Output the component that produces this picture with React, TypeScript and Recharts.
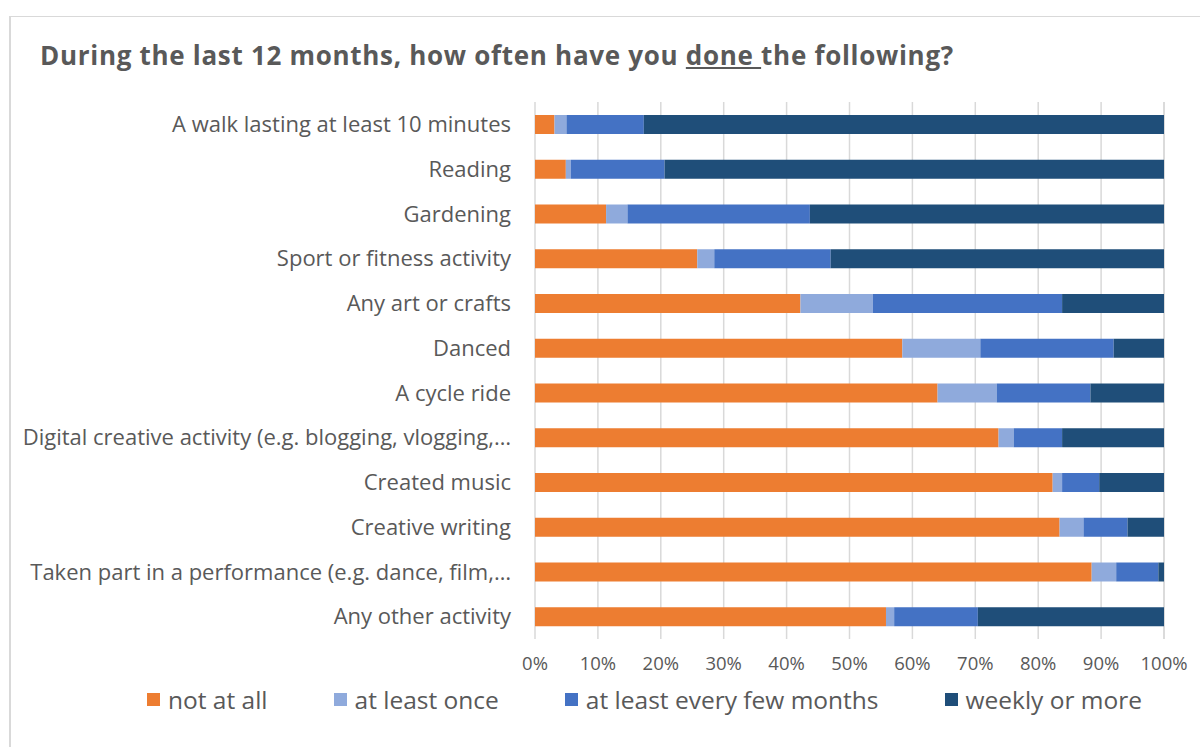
import { Bar, BarChart, CartesianGrid, XAxis, YAxis } from 'recharts'

// Activities, top to bottom
const activities = [
  'A walk lasting at least 10 minutes',
  'Reading',
  'Gardening',
  'Sport or fitness activity',
  'Any art or crafts',
  'Danced',
  'A cycle ride',
  'Digital creative activity (e.g. blogging, vlogging,…',
  'Created music',
  'Creative writing',
  'Taken part in a performance (e.g. dance, film,…',
  'Any other activity',
]

// Shares in % per answer
const notAtAll = [3.1, 4.9, 11.3, 25.8, 42.2, 58.4, 64.0, 73.7, 82.3, 83.4, 88.5, 55.8]
const atLeastOnce = [1.9, 0.8, 3.4, 2.7, 11.5, 12.4, 9.4, 2.4, 1.5, 3.8, 3.9, 1.3]
const everyFewMonths = [12.3, 14.9, 29.0, 18.5, 30.1, 21.2, 14.9, 7.7, 5.9, 7.0, 6.7, 13.3]
const weekly = [82.7, 79.4, 56.3, 53.0, 16.2, 8.0, 11.7, 16.2, 10.3, 5.8, 0.9, 29.6]

const xTicks = [0, 10, 20, 30, 40, 50, 60, 70, 80, 90, 100]

const series = [
  { key: 'notAtAll', name: 'not at all', color: '#ED7D31' },
  { key: 'atLeastOnce', name: 'at least once', color: '#8FAADC' },
  { key: 'everyFewMonths', name: 'at least every few months', color: '#4472C4' },
  { key: 'weekly', name: 'weekly or more', color: '#1F4E79' },
]

const data = activities.map((name, i) => ({
  name,
  notAtAll: notAtAll[i],
  atLeastOnce: atLeastOnce[i],
  everyFewMonths: everyFewMonths[i],
  weekly: weekly[i],
}))

const font = '"Open Sans", Lato, sans-serif'
const textColor = '#595959'

function LegendBox() {
  return (
    <div
      style={{
        position: 'absolute',
        left: 147,
        top: 683,
        display: 'flex',
        gap: 66,
        fontFamily: font,
        fontSize: 24.5,
        color: textColor,
        whiteSpace: 'nowrap',
      }}
    >
      {series.map((s) => (
        <div key={s.key} style={{ display: 'flex', alignItems: 'center' }}>
          <span style={{ width: 13, height: 13, background: s.color, marginRight: 8, display: 'inline-block' }} />
          {s.name}
        </div>
      ))}
    </div>
  )
}

export default function App() {
  return (
    <div style={{ position: 'absolute', left: 0, top: 0, width: 1200, height: 747, background: '#fff', overflow: 'hidden' }}>
      <div
        style={{
          position: 'absolute',
          left: 9,
          top: 16,
          width: 1300,
          height: 800,
          borderTop: '1.5px solid #d9d9d9',
          borderLeft: '2px solid #d9d9d9',
        }}
      />
      <div
        style={{
          position: 'absolute',
          left: 40,
          top: 37,
          fontFamily: font,
          fontWeight: 700,
          fontSize: 26,
          letterSpacing: 0.7,
          color: textColor,
          whiteSpace: 'nowrap',
        }}
      >
        During the last 12 months, how often have you <u>done </u>the following?
      </div>
      <div style={{ position: 'absolute', left: 0, top: 0 }}>
        <BarChart
          width={1200}
          height={747}
          data={data}
          layout='vertical'
          margin={{ top: 102, right: 36, bottom: 78, left: 0 }}
          barSize={19}
        >
          <CartesianGrid horizontal={false} stroke='#d9d9d9' strokeWidth={1.5} />
          <XAxis
            type='number'
            domain={[0, 100]}
            ticks={xTicks}
            tickFormatter={(v) => `${v}%`}
            axisLine={false}
            tickLine={false}
            tickSize={0}
            tickMargin={18}
            height={30}
            tick={{ fill: textColor, fontSize: 18.5, fontFamily: font }}
            interval={0}
          />
          <YAxis
            type='category'
            dataKey='name'
            width={535}
            axisLine={false}
            tickLine={false}
            tickSize={0}
            tickMargin={24}
            interval={0}
            tick={{ fill: textColor, fontSize: 22, fontFamily: font }}
          />
          {series.map((s) => (
            <Bar
              key={s.key}
              dataKey={s.key}
              name={s.name}
              stackId='a'
              fill={s.color}
              isAnimationActive={false}
            />
          ))}
        </BarChart>
      </div>
      <LegendBox />
    </div>
  )
}
